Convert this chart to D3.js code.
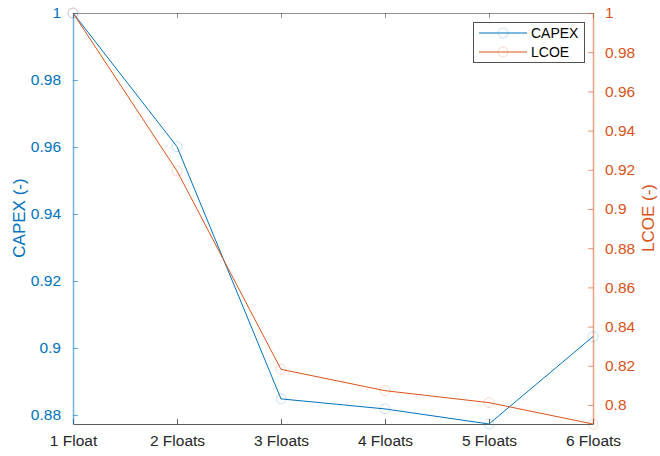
<!DOCTYPE html>
<html>
<head>
<meta charset="utf-8">
<script src="https://cdn.jsdelivr.net/npm/d3@7"></script>
<style>
  body { margin: 0; background: #fff; }
  svg { display: block; font-family: "Liberation Sans", Arial, sans-serif; }
</style>
</head>
<body>
<svg id="chart" width="660" height="456"></svg>
<script>
// Normalised cost metrics per number of floats
const categories = ["1 Float", "2 Floats", "3 Floats", "4 Floats", "5 Floats", "6 Floats"];
const capex = [1.0, 0.9601, 0.8848, 0.8818, 0.8773, 0.9034];
const lcoe = [1.0, 0.9194, 0.8182, 0.8073, 0.8012, 0.7903];
const capexTicks = [0.88, 0.9, 0.92, 0.94, 0.96, 0.98, 1];
const lcoeTicks = [0.8, 0.82, 0.84, 0.86, 0.88, 0.9, 0.92, 0.94, 0.96, 0.98, 1];

const blue = "#0072BD";
const orange = "#D95319";
const axisGray = "#262626";

const svg = d3.select("#chart");
const m = { left: 73, right: 593, top: 13, bottom: 424 };

const x = d3.scalePoint().domain(categories).range([m.left, m.right]);
const yL = d3.scaleLinear().domain([d3.min(capex), d3.max(capex)]).range([m.bottom, m.top]);
const yR = d3.scaleLinear().domain([d3.min(lcoe), d3.max(lcoe)]).range([m.bottom, m.top]);

const tickFont = "15.5px";

// Bottom axis (ticks point inward)
const gx = svg.append("g").attr("transform", `translate(0,${m.bottom})`)
  .call(d3.axisBottom(x).tickSizeInner(-5).tickSizeOuter(0).tickPadding(11));
gx.select(".domain").attr("stroke", axisGray).attr("stroke-opacity", 0.75);
gx.selectAll(".tick line").attr("stroke", axisGray).attr("stroke-opacity", 0.75);
gx.selectAll(".tick text").attr("fill", axisGray).style("font-size", tickFont).style("font-family", "Liberation Sans, Arial, sans-serif");

// Top box line with tick marks
const gt = svg.append("g").attr("transform", `translate(0,${m.top})`)
  .call(d3.axisTop(x).tickSizeInner(-5).tickSizeOuter(0).tickFormat(""));
gt.select(".domain").attr("stroke", axisGray).attr("stroke-opacity", 0.5);
gt.selectAll(".tick line").attr("stroke", axisGray).attr("stroke-opacity", 0.5);

// Left axis: CAPEX
const gl = svg.append("g").attr("transform", `translate(${m.left},0)`)
  .call(d3.axisLeft(yL).tickValues(capexTicks).tickFormat(d3.format("~g")).tickSizeInner(-5).tickSizeOuter(0).tickPadding(12));
gl.select(".domain").attr("stroke", blue).attr("stroke-opacity", 0.55).attr("stroke-width", 1.5);
gl.selectAll(".tick line").attr("stroke", blue).attr("stroke-opacity", 0.6);
gl.selectAll(".tick text").attr("fill", blue).style("font-size", tickFont).style("font-family", "Liberation Sans, Arial, sans-serif");

// Right axis: LCOE
const gr = svg.append("g").attr("transform", `translate(${m.right},0)`)
  .call(d3.axisRight(yR).tickValues(lcoeTicks).tickFormat(d3.format("~g")).tickSizeInner(-5).tickSizeOuter(0).tickPadding(12));
gr.select(".domain").attr("stroke", orange).attr("stroke-opacity", 0.55).attr("stroke-width", 1.5);
gr.selectAll(".tick line").attr("stroke", orange).attr("stroke-opacity", 0.6);
gr.selectAll(".tick text").attr("fill", orange).style("font-size", tickFont).style("font-family", "Liberation Sans, Arial, sans-serif");

// Axis titles
svg.append("text")
  .attr("transform", `translate(25,218) rotate(-90)`)
  .attr("text-anchor", "middle")
  .attr("fill", blue)
  .style("font-size", "17px")
  .text("CAPEX (-)");
svg.append("text")
  .attr("transform", `translate(654,218) rotate(-90)`)
  .attr("text-anchor", "middle")
  .attr("fill", orange)
  .style("font-size", "17px")
  .text("LCOE (-)");

// Series lines with faded circle markers
function drawSeries(values, yScale, color) {
  const pts = values.map((v, i) => [x(categories[i]), yScale(v)]);
  svg.append("path")
    .attr("d", d3.line()(pts))
    .attr("fill", "none")
    .attr("stroke", color)
    .attr("stroke-width", 1);
  svg.append("g").selectAll("circle").data(pts).join("circle")
    .attr("cx", d => d[0]).attr("cy", d => d[1]).attr("r", 5)
    .attr("fill", "none").attr("stroke", color).attr("stroke-opacity", 0.22).attr("stroke-width", 1);
}
drawSeries(capex, yL, blue);
drawSeries(lcoe, yR, orange);

// Legend
const lg = svg.append("g");
lg.append("rect").attr("x", 473.5).attr("y", 22.5).attr("width", 111).attr("height", 40)
  .attr("fill", "#fff").attr("stroke", axisGray).attr("stroke-opacity", 0.8);
const entries = [["CAPEX", blue], ["LCOE", orange]];
entries.forEach(([name, color], i) => {
  const yy = 33 + i * 19;
  lg.append("line").attr("x1", 479).attr("x2", 527).attr("y1", yy).attr("y2", yy)
    .attr("stroke", color).attr("stroke-width", 1);
  lg.append("circle").attr("cx", 503).attr("cy", yy).attr("r", 5)
    .attr("fill", "none").attr("stroke", color).attr("stroke-opacity", 0.22);
  lg.append("text").attr("x", 531).attr("y", yy + 5).attr("fill", "#000")
    .style("font-size", "14px").text(name);
});
</script>
</body>
</html>
